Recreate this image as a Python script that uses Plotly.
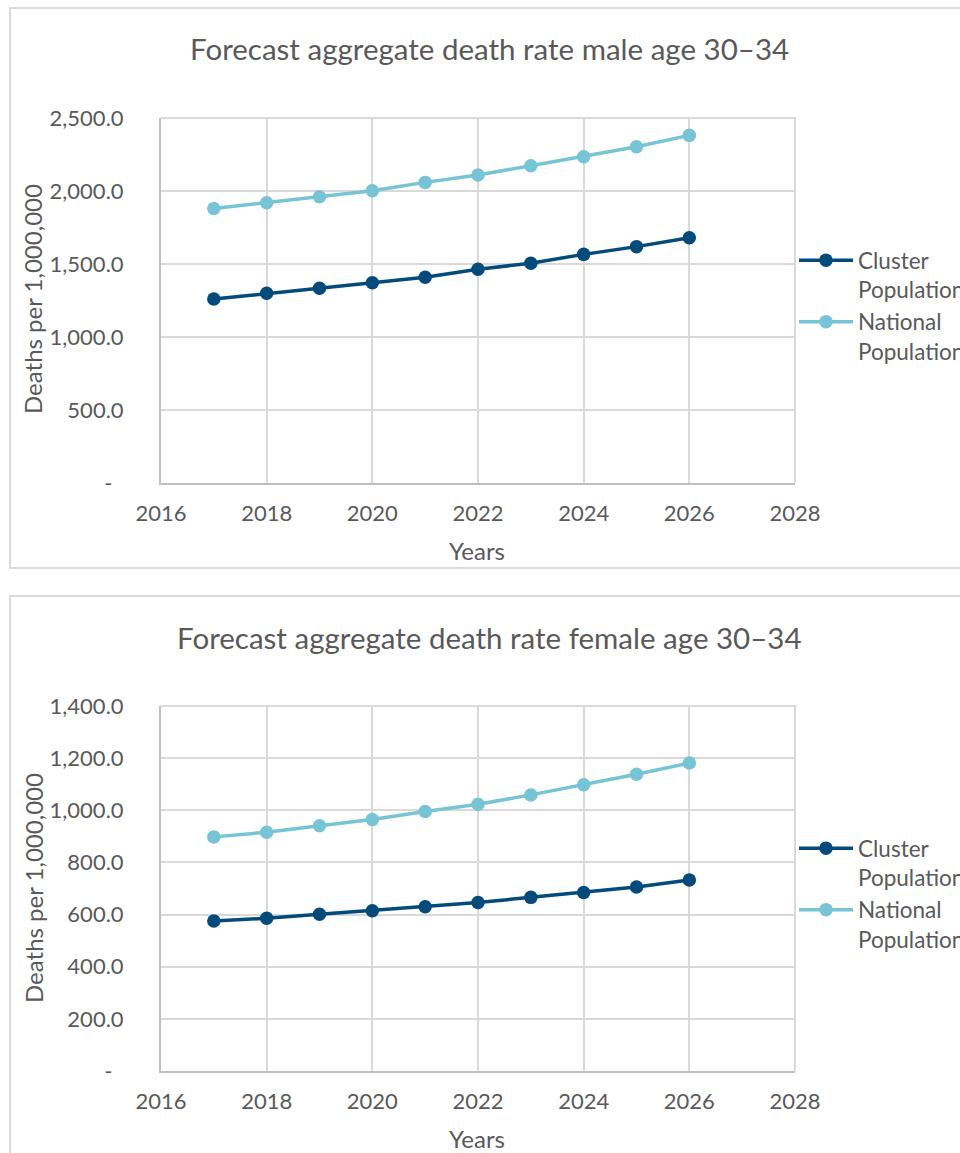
import plotly.graph_objects as go

# Forecast years
years = [2017, 2018, 2019, 2020, 2021, 2022, 2023, 2024, 2025, 2026]

# Deaths per 1,000,000 — males aged 30–34
male_cluster = [1260, 1299, 1334, 1372, 1409, 1464, 1505, 1566, 1619, 1680]
male_national = [1880, 1920, 1961, 2002, 2059, 2110, 2173, 2235, 2303, 2381]

# Deaths per 1,000,000 — females aged 30–34
female_cluster = [575, 586, 601, 615, 630, 646, 666, 685, 706, 733]
female_national = [898, 916, 941, 965, 995, 1023, 1059, 1098, 1138, 1181]

series_names = ["Cluster<br>Population", "National<br>Population"]
male_yticks = [0, 500, 1000, 1500, 2000, 2500]
female_yticks = [0, 200, 400, 600, 800, 1000, 1200, 1400]
x_ticks = [2016, 2018, 2020, 2022, 2024, 2026, 2028]

titles = ["Forecast aggregate death rate male age 30–34",
          "Forecast aggregate death rate female age 30–34"]
y_title = "Deaths per 1,000,000"
x_title = "Years"

DARK = "#044A7B"
LIGHT = "#76C4D5"
TEXT = "#595959"
GRID = "#D9D9D9"
AXIS = "#BFBFBF"
FONT = "Lato"

W, H = 960, 1153


def px_x(x):
    return x / W


def px_y(y):
    return 1 - y / H


def tick_text(vals):
    out = []
    for v in vals:
        out.append(f"{v:,.1f}" if v else "-" + "\u00a0" * 2)
    return out


fig = go.Figure()

panels = [
    dict(cl=male_cluster, na=male_national, yt=male_yticks, top=118, bot=483,
         box=(10, 8, 966, 568), title_y=49, ytitle_y=299, xtitle_y=550,
         leg_y=239, xa="x", ya="y", leg="legend"),
    dict(cl=female_cluster, na=female_national, yt=female_yticks, top=706, bot=1071,
         box=(10, 596, 966, 1160), title_y=637, ytitle_y=888, xtitle_y=1138,
         leg_y=827, xa="x2", ya="y2", leg="legend2"),
]

left, right = 161, 795
layout_upd = {}
for i, p in enumerate(panels):
    for vals, name, col in [(p["cl"], series_names[0], DARK), (p["na"], series_names[1], LIGHT)]:
        fig.add_trace(go.Scatter(
            x=years, y=vals, name=name, mode="lines+markers",
            line=dict(color=col, width=3.5),
            marker=dict(color=col, size=13.5),
            xaxis=p["xa"], yaxis=p["ya"], legend=p["leg"],
        ))
    xk = "xaxis" if i == 0 else "xaxis2"
    yk = "yaxis" if i == 0 else "yaxis2"
    layout_upd[xk] = dict(
        domain=[px_x(left), px_x(right)], anchor=p["ya"], range=[2016, 2028],
        tickvals=x_ticks, ticktext=[str(t) for t in x_ticks],
        showgrid=True, gridcolor=GRID, gridwidth=1.5,
        showline=True, linecolor=AXIS, linewidth=2, mirror=False,
        zeroline=False, ticks="", ticklabelstandoff=10,
        tickfont=dict(family=FONT, size=22, color=TEXT),
    )
    layout_upd[yk] = dict(
        domain=[px_y(p["bot"]), px_y(p["top"])], anchor=p["xa"],
        range=[0, p["yt"][-1]], tickvals=p["yt"], ticktext=tick_text(p["yt"]),
        showgrid=True, gridcolor=GRID, gridwidth=1.5,
        showline=True, linecolor=AXIS, linewidth=2, mirror=False,
        zeroline=False, ticks="", ticklabelstandoff=31,
        tickfont=dict(family=FONT, size=22, color=TEXT),
    )
    layout_upd[p["leg"]] = dict(
        x=px_x(794), xanchor="left", y=px_y(p["leg_y"]), yanchor="top",
        orientation="v", valign="top", bgcolor="rgba(0,0,0,0)",
        font=dict(family=FONT, size=22.5, color=TEXT), tracegroupgap=0,
        itemwidth=54,
    )
    x0, y0, x1, y1 = p["box"]
    fig.add_shape(type="rect", xref="paper", yref="paper",
                  x0=px_x(x0), x1=px_x(x1), y0=px_y(y1), y1=px_y(y0),
                  line=dict(color=GRID, width=2), layer="below")
    # right and top edges of the plot frame
    fig.add_shape(type="path", xref="paper", yref="paper",
                  path=f"M {px_x(left)} {px_y(p['top'])} L {px_x(right)} {px_y(p['top'])} L {px_x(right)} {px_y(p['bot'])}",
                  line=dict(color=GRID, width=2), layer="below")
    fig.add_annotation(text=titles[i], xref="paper", yref="paper",
                       x=px_x(489), y=px_y(p["title_y"]), xanchor="center", yanchor="middle",
                       showarrow=False, font=dict(family=FONT, size=29.5, color=TEXT))
    fig.add_annotation(text=y_title, xref="paper", yref="paper", textangle=-90,
                       x=px_x(33), y=px_y(p["ytitle_y"]), xanchor="center", yanchor="middle",
                       showarrow=False, font=dict(family=FONT, size=24, color=TEXT))
    fig.add_annotation(text=x_title, xref="paper", yref="paper",
                       x=px_x(477), y=px_y(p["xtitle_y"]), xanchor="center", yanchor="middle",
                       showarrow=False, font=dict(family=FONT, size=24, color=TEXT))

fig.update_layout(
    width=W, height=H,
    margin=dict(l=0, r=0, t=0, b=0, autoexpand=False),
    paper_bgcolor="white", plot_bgcolor="white",
    **layout_upd,
)

fig.write_html("out.html")
